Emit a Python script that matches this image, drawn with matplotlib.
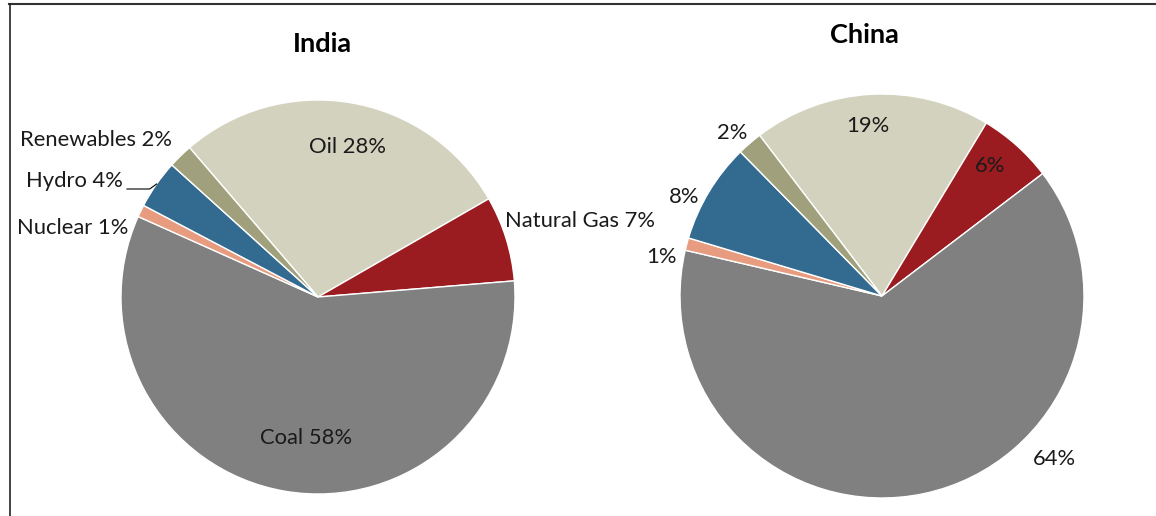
import matplotlib
matplotlib.use("Agg")
import matplotlib.pyplot as plt
import numpy as np

# ---- data ----
sources = ["Oil", "Natural Gas", "Coal", "Nuclear", "Hydro", "Renewables"]
india_share = [28, 7, 58, 1, 4, 2]
china_share = [19, 6, 64, 1, 8, 2]
india_labels = ["Oil 28%", "Natural Gas 7%", "Coal 58%", "Nuclear 1%", "Hydro 4%", "Renewables 2%"]
china_labels = ["19%", "6%", "64%", "1%", "8%", "2%"]
titles = ["India", "China"]

# ---- style ----
colors = ["#D3D2BE", "#9B1C20", "#808080", "#E89C7F", "#336A90", "#A0A17C"]
plt.rcParams['font.family'] = ['Lato', 'DejaVu Sans']
W, H = 1156, 516
fig = plt.figure(figsize=(W / 100, H / 100), dpi=100)
ax = fig.add_axes([0, 0, 1, 1])

# layout: (center x, center y, radius, start angle), in pixel units
layouts = [(318, H - 297, 197, 130.7), (882, H - 296, 202, 127.3)]
# label offsets relative to centre in radius units, and horizontal alignment
india_pos = [(0.152, 0.761, 'center'), (0.949, 0.386, 'left'), (-0.061, -0.716, 'center'),
             (-0.964, 0.350, 'right'), (-0.99, 0.589, 'right'), (-0.741, 0.797, 'right')]
china_pos = [(-0.069, 0.842, 'center'), (0.535, 0.644, 'center'), (0.856, -0.807, 'center'),
             (-1.015, 0.193, 'right'), (-0.906, 0.49, 'right'), (-0.668, 0.807, 'right')]
title_pos = [(322, H - 44), (864, H - 35)]

for (cx, cy, r, sa), vals, labs, pos, title, tp in zip(
        layouts, [india_share, china_share], [india_labels, china_labels],
        [india_pos, china_pos], titles, title_pos):
    wedges, _ = ax.pie(vals, colors=colors, startangle=sa, counterclock=False,
                       center=(cx, cy), radius=r, frame=True,
                       wedgeprops=dict(edgecolor='white', linewidth=1.0))
    for lab, (dx, dy, ha) in zip(labs, pos):
        ax.text(cx + dx * r, cy + dy * r, lab, ha=ha, va='center',
                fontsize=15.8, color='#1a1a1a')
    ax.text(tp[0], tp[1], title, ha='center', va='center', fontsize=19.5,
            fontweight='bold', color='black')

ax.set_xlim(0, W)
ax.set_ylim(0, H)
ax.set_aspect('auto')
ax.set_axis_off()

# leader line for Hydro (India)
cx, cy, r, sa = layouts[0]
ang = np.deg2rad(145)
ex, ey = cx + r * np.cos(ang), cy + r * np.sin(ang)
ax.plot([127, ex - 7, ex], [H - 189, H - 189, ey], color='black', lw=0.8)

# frame lines (top and left)
ax.plot([9, W], [H - 3.5, H - 3.5], color='#333333', lw=1.5, clip_on=False)
ax.plot([9.5, 9.5], [H - 3.5, 0], color='#222222', lw=1.2, clip_on=False)

fig.savefig("out.png", dpi=100)
